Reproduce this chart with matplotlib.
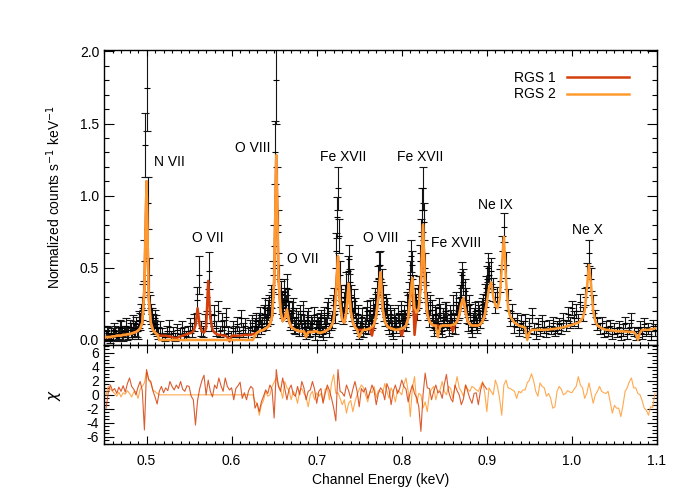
import numpy as np
import matplotlib
matplotlib.use("Agg")
import matplotlib.pyplot as plt
from matplotlib.ticker import MultipleLocator

plt.rcParams["font.family"] = ["Liberation Sans", "DejaVu Sans"]
plt.rcParams["axes.unicode_minus"] = False

# channel grid (keV), 0.0025 keV bins; RGS 1 channels sit half a bin higher
energy = np.linspace(0.4525, 1.0975, 259)
energy_rgs1 = np.linspace(0.45375, 0.90125, 180)

# RGS 2 spectrum (normalized counts s^-1 keV^-1); None = CCD gap
counts_rgs2 = [
    0.03, 0.05, 0.01, 0.04, 0.06, 0.02, 0.05, 0.08, 0.03, 0.06, 0.04, 0.09, 0.05, 0.07, 0.11, 0.06, 0.13, 0.22, 0.55, 1.75,
    0.45, 0.18, 0.12, 0.15, 0.08, None, None, None, None, None, None, None, None, None, None, None, None, None, None, None,
    None, None, None, None, None, None, None, None, None, None, None, None, None, None, None, None, None, None, None, None,
    None, None, None, None, None, None, None, None, None, None, 0.10, 0.06, 0.14, 0.09, 0.18, 0.12, 0.21, 0.17, 0.26, 0.65,
    1.80, 0.75, 0.32, 0.22, 0.28, 0.36, 0.20, 0.15, 0.22, 0.09, 0.14, 0.18, 0.07, 0.12, 0.05, 0.16, 0.08, 0.11, 0.04, 0.13,
    0.08, 0.15, 0.04, 0.11, 0.19, 0.07, 0.14, 0.28, 0.62, 1.05, 0.45, 0.20, 0.26, 0.38, 0.56, 0.30, 0.16, 0.22, 0.10, 0.05,
    0.12, 0.06, 0.17, 0.09, 0.21, 0.13, 0.18, 0.25, 0.42, 0.52, 0.30, 0.16, 0.22, 0.09, 0.15, 0.05, 0.12, 0.18, 0.08, 0.14,
    0.18, 0.11, 0.24, 0.45, 0.52, 0.28, 0.21, 0.35, 0.72, 1.05, 0.50, 0.26, 0.15, 0.21, 0.08, 0.17, 0.12, 0.19, 0.06, 0.14,
    0.20, 0.08, 0.15, 0.24, 0.09, 0.18, 0.22, 0.38, 0.40, 0.28, 0.11, 0.19, 0.07, 0.16, 0.12, 0.21, 0.14, 0.25, 0.31, 0.42,
    0.45, 0.48, 0.35, 0.26, 0.30, 0.41, 0.62, 0.78, 0.52, 0.28, 0.15, 0.19, 0.10, 0.14, 0.07, 0.12, 0.09, 0.13, 0.06, 0.10,
    0.17, 0.08, 0.04, 0.11, 0.06, 0.13, 0.09, 0.05, 0.10, 0.07, 0.12, 0.06, 0.09, 0.11, 0.08, 0.14, 0.10, 0.18, 0.12, 0.22,
    0.15, 0.20, 0.13, 0.26, 0.18, 0.30, 0.45, 0.60, 0.42, 0.25, 0.16, 0.11, 0.08, 0.12, 0.05, 0.09, 0.06, 0.10, 0.04, 0.08,
    0.05, 0.09, 0.03, 0.07, 0.12, 0.04, 0.08, 0.14, 0.06, 0.03, 0.05, 0.09, 0.04, 0.11, 0.06, 0.08, 0.03, 0.10, 0.07,
]
errors_rgs2 = [
    0.04, 0.04, 0.03, 0.04, 0.04, 0.03, 0.04, 0.05, 0.04, 0.04, 0.04, 0.05, 0.04, 0.05, 0.05, 0.05, 0.06, 0.08, 0.14, 0.30,
    0.12, 0.07, 0.06, 0.06, 0.05, 0.04, 0.04, 0.04, 0.04, 0.03, 0.04, 0.05, 0.04, 0.03, 0.04, 0.04, 0.03, 0.04, 0.04, 0.04,
    0.04, 0.05, 0.06, 0.13, 0.06, 0.04, 0.05, 0.06, 0.13, 0.09, 0.05, 0.06, 0.04, 0.07, 0.05, 0.04, 0.05, 0.05, 0.03, 0.04,
    0.04, 0.05, 0.03, 0.04, 0.05, 0.04, 0.05, 0.05, 0.04, 0.04, 0.05, 0.04, 0.05, 0.05, 0.06, 0.05, 0.07, 0.06, 0.07, 0.15,
    0.30, 0.15, 0.09, 0.07, 0.08, 0.10, 0.07, 0.06, 0.07, 0.05, 0.06, 0.06, 0.04, 0.05, 0.04, 0.06, 0.05, 0.05, 0.04, 0.05,
    0.05, 0.06, 0.04, 0.05, 0.07, 0.05, 0.06, 0.08, 0.12, 0.15, 0.10, 0.07, 0.07, 0.09, 0.10, 0.08, 0.06, 0.07, 0.05, 0.04,
    0.05, 0.04, 0.06, 0.05, 0.07, 0.05, 0.06, 0.07, 0.09, 0.10, 0.08, 0.06, 0.07, 0.05, 0.06, 0.04, 0.05, 0.06, 0.05, 0.05,
    0.06, 0.05, 0.07, 0.10, 0.10, 0.08, 0.07, 0.09, 0.12, 0.15, 0.10, 0.07, 0.06, 0.07, 0.05, 0.06, 0.05, 0.06, 0.04, 0.05,
    0.06, 0.05, 0.06, 0.07, 0.05, 0.06, 0.07, 0.09, 0.09, 0.08, 0.05, 0.06, 0.05, 0.06, 0.05, 0.06, 0.06, 0.07, 0.08, 0.09,
    0.09, 0.09, 0.08, 0.07, 0.07, 0.08, 0.10, 0.10, 0.09, 0.07, 0.05, 0.06, 0.05, 0.05, 0.04, 0.05, 0.04, 0.05, 0.04, 0.05,
    0.05, 0.04, 0.03, 0.04, 0.03, 0.04, 0.04, 0.03, 0.04, 0.03, 0.04, 0.03, 0.04, 0.04, 0.04, 0.05, 0.04, 0.05, 0.04, 0.05,
    0.05, 0.05, 0.05, 0.06, 0.05, 0.06, 0.08, 0.09, 0.08, 0.06, 0.05, 0.04, 0.04, 0.04, 0.03, 0.04, 0.03, 0.04, 0.03, 0.04,
    0.03, 0.04, 0.03, 0.04, 0.04, 0.03, 0.04, 0.05, 0.03, 0.03, 0.03, 0.04, 0.03, 0.04, 0.03, 0.04, 0.03, 0.04, 0.04,
]

# RGS 1 spectrum, 0.45-0.90 keV
counts_rgs1 = [
    0.06, 0.02, 0.04, 0.07, 0.03, 0.05, 0.09, 0.04, 0.06, 0.10, 0.05, 0.07, 0.12, 0.08, 0.06, 0.14, 0.18, 0.30, 1.35, 0.95,
    0.22, 0.15, 0.09, 0.11, 0.05, 0.08, 0.04, 0.02, 0.06, 0.09, 0.03, 0.05, 0.02, 0.07, 0.04, 0.08, 0.05, 0.03, 0.06, 0.10,
    0.07, 0.12, 0.28, 0.45, 0.08, 0.06, 0.12, 0.30, 0.48, 0.12, 0.17, 0.08, 0.20, 0.06, 0.13, 0.09, 0.16, 0.05, 0.03, 0.08,
    0.06, 0.11, 0.05, 0.15, 0.07, 0.10, 0.04, 0.09, 0.12, 0.06, 0.13, 0.09, 0.17, 0.11, 0.22, 0.16, 0.24, 0.30, 0.45, 1.30,
    1.00, 0.42, 0.26, 0.33, 0.24, 0.27, 0.13, 0.19, 0.10, 0.16, 0.07, 0.13, 0.20, 0.09, 0.14, 0.06, 0.12, 0.17, 0.09, 0.11,
    0.13, 0.06, 0.17, 0.10, 0.22, 0.12, 0.24, 0.18, 0.85, 0.72, 0.30, 0.17, 0.30, 0.48, 0.40, 0.20, 0.27, 0.12, 0.18, 0.08,
    0.16, 0.10, 0.20, 0.14, 0.12, 0.22, 0.28, 0.33, 0.52, 0.40, 0.20, 0.25, 0.12, 0.18, 0.08, 0.16, 0.10, 0.14, 0.20, 0.12,
    0.15, 0.26, 0.32, 0.58, 0.36, 0.25, 0.30, 0.55, 0.90, 0.82, 0.38, 0.20, 0.24, 0.12, 0.18, 0.10, 0.22, 0.08, 0.16, 0.20,
    0.12, 0.18, 0.10, 0.14, 0.26, 0.20, 0.30, 0.45, 0.34, 0.18, 0.24, 0.09, 0.14, 0.20, 0.10, 0.18, 0.22, 0.20, 0.36, 0.50,
]
errors_rgs1 = [
    0.04, 0.03, 0.04, 0.05, 0.03, 0.04, 0.05, 0.04, 0.04, 0.05, 0.04, 0.05, 0.05, 0.05, 0.04, 0.06, 0.07, 0.09, 0.22, 0.18,
    0.09, 0.07, 0.05, 0.06, 0.04, 0.05, 0.04, 0.03, 0.04, 0.05, 0.03, 0.04, 0.03, 0.04, 0.04, 0.05, 0.04, 0.03, 0.04, 0.05,
    0.05, 0.06, 0.09, 0.13, 0.05, 0.04, 0.06, 0.10, 0.13, 0.06, 0.07, 0.05, 0.07, 0.04, 0.06, 0.05, 0.06, 0.04, 0.03, 0.05,
    0.04, 0.05, 0.04, 0.06, 0.05, 0.05, 0.04, 0.05, 0.05, 0.04, 0.06, 0.05, 0.06, 0.05, 0.07, 0.06, 0.07, 0.08, 0.10, 0.22,
    0.20, 0.10, 0.08, 0.09, 0.07, 0.08, 0.06, 0.07, 0.05, 0.06, 0.04, 0.05, 0.07, 0.05, 0.06, 0.04, 0.05, 0.06, 0.05, 0.05,
    0.06, 0.04, 0.06, 0.05, 0.07, 0.05, 0.07, 0.06, 0.14, 0.12, 0.08, 0.06, 0.08, 0.10, 0.09, 0.07, 0.08, 0.05, 0.06, 0.05,
    0.06, 0.05, 0.07, 0.06, 0.05, 0.07, 0.08, 0.08, 0.09, 0.09, 0.07, 0.07, 0.05, 0.06, 0.05, 0.06, 0.05, 0.05, 0.07, 0.05,
    0.06, 0.07, 0.08, 0.11, 0.09, 0.07, 0.08, 0.11, 0.15, 0.13, 0.09, 0.06, 0.07, 0.05, 0.06, 0.05, 0.07, 0.04, 0.06, 0.06,
    0.05, 0.06, 0.05, 0.05, 0.07, 0.06, 0.08, 0.09, 0.08, 0.06, 0.07, 0.04, 0.05, 0.06, 0.05, 0.06, 0.07, 0.06, 0.08, 0.10,
]

# best-fit models; RGS 1 stops at 0.90 keV (dead CCD), RGS 2 has a gap near 0.52-0.63 keV
model_rgs1 = [
    0.02, 0.02, 0.02, 0.025, 0.025, 0.03, 0.03, 0.03, 0.035, 0.035, 0.04, 0.04, 0.045, 0.05, 0.055, 0.065, 0.08, 0.12, 0.35, 1.10,
    0.30, 0.12, 0.07, 0.05, 0.04, 0.03, 0.03, 0.03, 0.03, 0.025, 0.025, 0.02, 0.015, 0.01, 0.02, 0.025, 0.03, 0.035, 0.04, 0.045,
    0.05, 0.06, 0.10, 0.22, 0.10, 0.06, 0.05, 0.08, 0.41, 0.15, 0.07, 0.05, 0.04, 0.035, 0.035, 0.03, 0.03, 0.02, -0.01, 0.03,
    0.03, 0.03, 0.03, 0.03, 0.032, 0.035, 0.035, 0.035, 0.035, 0.04, 0.045, 0.05, 0.06, 0.065, 0.07, 0.08, 0.09, 0.11, 0.16, 0.40,
    1.28, 0.45, 0.20, 0.13, 0.15, 0.21, 0.13, 0.09, 0.08, 0.07, 0.065, 0.06, 0.06, 0.06, 0.02, 0.055, 0.055, 0.055, 0.06, 0.06,
    0.05, 0.05, 0.055, 0.06, 0.07, 0.08, 0.10, 0.14, 0.33, 0.58, 0.25, 0.14, 0.12, 0.20, 0.39, 0.20, 0.12, 0.09, 0.07, 0.07,
    0.07, 0.07, 0.07, 0.075, 0.08, 0.03, 0.11, 0.17, 0.30, 0.47, 0.22, 0.13, 0.10, 0.085, 0.08, 0.075, 0.07, 0.07, 0.075, 0.03,
    0.085, 0.10, 0.15, 0.30, 0.43, 0.035, 0.19, 0.22, 0.40, 0.80, 0.36, 0.18, 0.13, 0.11, 0.10, 0.10, 0.10, 0.09, 0.10, 0.10,
    0.10, 0.10, 0.10, 0.06, 0.11, 0.13, 0.17, 0.25, 0.29, 0.20, 0.13, 0.11, 0.10, 0.10, 0.10, 0.10, 0.11, 0.13, 0.17, 0.26,
]
model_rgs2 = [
    0.02, 0.02, 0.02, 0.025, 0.025, 0.03, 0.03, 0.03, 0.035, 0.035, 0.04, 0.04, 0.045, 0.05, 0.055, 0.065, 0.08, 0.12, 0.35, 1.10,
    0.30, 0.12, 0.07, 0.05, 0.04, 0, 0, 0, 0, 0, 0, 0, 0, 0, 0, 0, 0, 0, 0, 0,
    0, 0, 0, 0, 0, 0, 0, 0, 0, 0, 0, 0, 0, 0, 0, 0, 0, 0, 0, 0,
    0, 0, 0, 0, 0, 0, 0, 0, 0, 0, 0.03, 0.05, 0.06, 0.065, 0.07, 0.08, 0.09, 0.11, 0.16, 0.40,
    1.28, 0.45, 0.20, 0.13, 0.15, 0.21, 0.13, 0.09, 0.08, 0.07, 0.065, 0.06, 0.06, 0.06, 0.02, 0.055, 0.055, 0.055, 0.06, 0.06,
    0.05, 0.05, 0.055, 0.06, 0.07, 0.08, 0.10, 0.14, 0.28, 0.58, 0.25, 0.14, 0.12, 0.20, 0.39, 0.20, 0.12, 0.09, 0.07, 0.02,
    0.05, 0.07, 0.07, 0.075, 0.08, 0.09, 0.11, 0.17, 0.30, 0.47, 0.22, 0.13, 0.10, 0.085, 0.08, 0.075, 0.07, 0.07, 0.075, 0.08,
    0.085, 0.10, 0.15, 0.30, 0.43, 0.22, 0.19, 0.22, 0.40, 0.80, 0.36, 0.18, 0.13, 0.11, 0.10, 0.10, 0.02, 0.09, 0.10, 0.10,
    0.10, 0.10, 0.10, 0.105, 0.11, 0.13, 0.17, 0.25, 0.29, 0.20, 0.13, 0.11, 0.10, 0.10, 0.10, 0.10, 0.11, 0.13, 0.17, 0.26,
    0.36, 0.40, 0.30, 0.24, 0.22, 0.28, 0.50, 0.715, 0.42, 0.22, 0.16, 0.14, 0.12, 0.11, 0.10, 0.095, 0.09, 0.085, 0.0, 0.05,
    0.07, 0.07, 0.07, 0.07, 0.07, 0.07, 0.07, 0.072, 0.072, 0.074, 0.075, 0.077, 0.08, 0.082, 0.085, 0.088, 0.092, 0.097, 0.10, 0.105,
    0.11, 0.115, 0.12, 0.13, 0.15, 0.20, 0.35, 0.52, 0.38, 0.20, 0.13, 0.10, 0.09, 0.08, 0.075, 0.07, 0.07, 0.065, 0.065, 0.065,
    0.06, 0.06, 0.06, 0.06, 0.058, 0.058, 0.056, 0.055, 0.055, 0.04, 0.0, 0.05, 0.07, 0.07, 0.07, 0.07, 0.075, 0.075, 0.08,
]

# residuals (data - model) / sigma
chi_rgs1 = [
    -1.9, 0.3, 1.4, 0.6, 0.9, 0.2, 1.1, 0.5, 1.3, 0.4, 1.6, 2.4, 1.2, 0.8, 0.0, 1.1, 1.9, 0.6, -5.0, 3.6,
    2.2, 1.9, 0.6, -0.3, -1.3, 0.5, 1.2, 0.3, 1.0, 0.6, 1.9, 1.2, 0.7, 1.4, 0.9, 1.9, 0.8, 0.5, 1.3, 1.2,
    -0.2, -0.7, -4.3, -0.8, 0.9, 2.0, 2.8, 0.0, 2.1, 0.5, -0.3, 1.4, 0.9, 2.4, 1.3, 0.5, 2.4, 1.2, 0.7, 1.0,
    -0.7, 0.9, 1.3, 1.8, -0.5, 0.3, -0.7, 0.6, 1.2, 0.9, -1.9, -1.2, -2.4, -1.0, -0.2, 0.7, 0.2, 1.4, 0.8, -3.3,
    3.6, 1.2, 0.5, 2.4, 0.9, -0.7, 0.8, 1.4, 0.1, -0.2, 1.2, 0.0, 1.9, 1.0, -0.7, 0.5, 0.7, 1.9, 0.8, -1.2,
    0.5, 0.9, -1.2, 0.2, 1.4, 0.6, -0.5, -1.9, -3.7, 3.6, 0.5, 0.3, -0.2, 1.4, 0.6, -0.5, 0.8, 1.9, 0.5, -1.7,
    0.9, 0.4, 1.0, -0.5, 0.3, 1.4, 0.6, -1.4, 0.2, 1.0, 0.6, -0.7, 1.6, 0.8, -1.4, 0.5, 1.4, 0.2, 0.9, 2.1,
    1.2, 0.8, -1.0, 0.4, 1.4, 0.2, -0.4, -1.7, -5.2, 0.0, 3.1, 1.0, 0.9, -0.7, 0.5, 1.4, 0.3, 0.5, -0.5, 1.5,
    2.9, 0.5, -0.5, -1.0, 1.4, 0.6, 0.0, -1.4, -0.6, 1.4, 0.5, -0.5, -1.2, 0.2, 0.3, -1.4, 0.6, 1.7, 1.2, 0.8,
]
chi_rgs2 = [
    0.0, 1.2, 0.8, 0.5, 0.2, -0.2, 0.4, -0.3, 0.3, 0.1, 0.6, 0.2, -0.3, 0.4, 0.5, -0.5, 0.8, 1.2, 1.7, 3.3,
    2.1, 1.7, 0.6, 0.5, 0.2, 0, 0, 0, 0, 0, 0, 0, 0, 0, 0, 0, 0, 0, 0, 0,
    0, 0, 0, 0, 0, 0, 0, 0, 0, 0, 0, 0, 0, 0, 0, 0, 0, 0, 0, 0,
    0, 0, 0, 0, 0, 0, 0, 0, 0, 0, -1.0, -1.2, -2.9, -1.4, -0.8, 0.5, -0.2, 0.0, 1.2, 1.8,
    2.4, 1.4, 0.8, -0.5, 1.9, 1.0, 0.7, -0.7, 0.5, 0.0, -1.2, 0.6, 0.9, 0.2, -0.3, -1.7, 0.0, 0.5, -0.7, 0.3,
    -0.2, 0.2, -0.9, 0.8, 1.0, -0.7, 1.7, 2.9, 0.2, 0.3, -0.5, -1.4, -0.7, -2.6, -1.2, -0.8, -2.4, -1.0, 0.0, 0.8,
    1.4, 1.0, 0.0, -1.0, 0.5, 0.3, 1.2, -0.4, 0.6, 0.5, 0.2, 1.6, 0.5, -0.5, 1.0, 0.3, -1.0, 0.7, 0.4, 0.0,
    1.5, 2.4, 0.5, -3.1, 1.0, 2.6, -1.2, 0.2, 0.0, -1.9, -1.0, -2.4, 0.3, 0.8, 1.2, -0.7, 0.5, 0.7, 1.9, 0.5,
    0.0, 1.2, 0.9, -0.5, 1.0, 2.6, 1.0, 0.5, -0.2, 1.4, 0.8, 0.5, 1.2, 1.0, 0.7, 0.5, 1.2, 1.9, 0.3, -2.4,
    1.0, 0.5, 0.0, 2.1, 1.2, -0.5, -2.9, 1.4, 2.1, 1.0, 0.9, 0.7, 0.5, -0.5, 0.5, 0.3, 0.7, 0.7, 1.7, 2.1,
    3.0, 2.0, 0.5, -0.2, 1.7, 1.2, 1.0, -0.2, 0.2, -0.5, -1.9, -1.7, 0.5, 1.2, 0.8, 0.0, 0.2, 0.6, 0.4, 0.3,
    0.8, 1.2, 2.6, 1.4, 1.0, -0.5, 0.2, 1.7, 0.3, -1.2, 0.0, 0.5, 1.2, 0.5, 0.3, 0.2, 0.5, -1.0, -2.6, -1.5,
    -1.9, -1.9, -3.1, -1.5, 0.5, 1.0, 1.9, 2.4, 1.0, 1.0, 0.2, 0.0, -0.8, -1.9, -2.2, -2.9, -1.7, -1.8, 0.2,
]

# line identifications
line_names = ["N VII", "O VII", "O VIII", "O VII", "Fe XVII", "O VIII", "Fe XVII", "Fe XVIII", "Ne IX", "Ne X"]
line_x = [0.509, 0.5535, 0.604, 0.665, 0.704, 0.7547, 0.7947, 0.8347, 0.890, 1.0006]
line_y = [1.236, 0.708, 1.333, 0.5625, 1.27, 0.708, 1.27, 0.674, 0.9375, 0.764]

RGS1_COLOR = "#d4400c"
RGS2_COLOR = "#ff9a30"

n1 = len(model_rgs1)

fig = plt.figure(figsize=(6.92, 4.94), dpi=100)
ax1 = fig.add_axes([104 / 692, 1 - 345 / 494, 553 / 692, 295 / 494])
ax2 = fig.add_axes([104 / 692, 1 - 444 / 494, 553 / 692, 99 / 494], sharex=ax1)

# spectra
for x, y, e in [(energy_rgs1, counts_rgs1, errors_rgs1), (energy, counts_rgs2, errors_rgs2)]:
    y = np.array(y, dtype=float)
    eb = ax1.errorbar(x, y, yerr=e, fmt="_", ms=5, mew=0.8, color="black",
                      ecolor="0.08", elinewidth=0.8, capsize=3, capthick=0.7, zorder=1)
    for cap in eb[1]:
        cap.set_color("0.45")

ax1.plot(energy[:n1], model_rgs1, color=RGS1_COLOR, lw=1.8, zorder=2, label="RGS 1")
ax1.plot(energy, model_rgs2, color=RGS2_COLOR, lw=1.8, zorder=3, label="RGS 2")

for name, x, y in zip(line_names, line_x, line_y):
    ax1.text(x, y, name, fontsize=10, ha="left", va="center")

ax1.set_xlim(0.45, 1.1)
ax1.set_ylim(-0.035, 2.01)
ax1.set_ylabel("Normalized counts s$^{-1}$ keV$^{-1}$", fontsize=10)
ax1.yaxis.set_major_locator(MultipleLocator(0.5))
ax1.yaxis.set_minor_locator(MultipleLocator(0.1))
ax1.xaxis.set_major_locator(MultipleLocator(0.1))
ax1.xaxis.set_minor_locator(MultipleLocator(0.01))
ax1.yaxis.set_major_formatter(plt.FormatStrFormatter("%.1f"))
ax1.tick_params(which="both", direction="in", top=True, right=True, labelbottom=False, labelsize=10, width=0.8)
ax1.tick_params(axis="y", which="major", length=7)
ax1.tick_params(axis="y", which="minor", length=3.5)
ax1.tick_params(axis="x", which="major", length=4)
ax1.tick_params(axis="x", which="minor", length=2)

ax1.legend(loc="upper right", bbox_to_anchor=(0.95, 0.93), frameon=False, markerfirst=False,
           handlelength=4.5, handletextpad=0.8, labelspacing=0.2, borderaxespad=0, borderpad=0, fontsize=10)

# residuals
ax2.plot(energy, chi_rgs2, color=RGS2_COLOR, lw=0.8, alpha=0.85)
ax2.plot(energy[:n1], chi_rgs1, color=RGS1_COLOR, lw=0.8, alpha=0.85)
ax2.set_ylim(-7, 7.1)
ax2.set_ylabel("$\\chi$", fontsize=11)
ax2.set_xlabel("Channel Energy (keV)", fontsize=10)
ax2.yaxis.set_major_locator(MultipleLocator(2))
ax2.yaxis.set_minor_locator(MultipleLocator(0.5))
ax2.xaxis.set_major_formatter(plt.FormatStrFormatter("%.1f"))
ax2.tick_params(which="both", direction="in", top=True, right=True, labelsize=10, width=0.8)
ax2.tick_params(axis="y", which="major", length=7)
ax2.tick_params(axis="y", which="minor", length=3.5)
ax2.tick_params(axis="x", which="major", length=6, pad=7)
ax2.tick_params(axis="x", which="minor", length=2.5)

for ax in (ax1, ax2):
    ax.yaxis.set_label_coords(-0.075, 0.5)
    for sp in ax.spines.values():
        sp.set_linewidth(1.0)

fig.savefig("out.png", dpi=100)
